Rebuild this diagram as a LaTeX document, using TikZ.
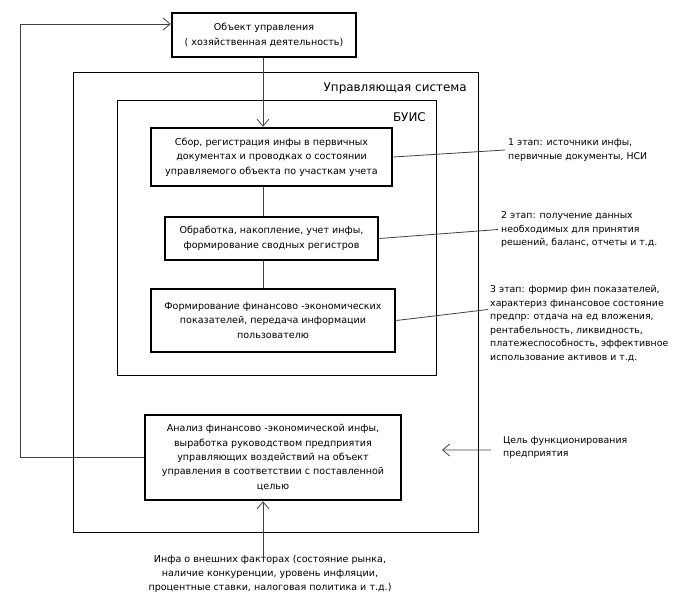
\documentclass[tikz,border=0pt]{standalone}
\usepackage{fontspec}
\setmainfont{DejaVu Sans}
\usetikzlibrary{arrows.meta}

\begin{document}
\begin{tikzpicture}[x=1bp,y=-1bp,
        stage/.style={draw,line width=2.6bp,align=center,inner sep=0pt,font=\fontsize{9.6}{14.5}\selectfont},
        frame/.style={draw,line width=0.8bp,inner sep=0pt},
        caption/.style={anchor=east,inner sep=0pt,font=\fontsize{12}{14}\selectfont},
        note/.style={anchor=west,align=left,inner sep=0pt,font=\fontsize{9.4}{13.6}\selectfont},
        link/.style={line width=0.8bp,draw=black!75},
        arr/.style={link,-{Straight Barb[length=7bp,width=12bp]}}]
        \useasboundingbox (0,0) rectangle (674,596);
        %% frames
        \node[frame,minimum width=405bp,minimum height=460bp] (US) at (275.5,302) {};
        \node[caption] (USlabel) at (467,88) {Управляющая система};
        \node[frame,minimum width=319bp,minimum height=275bp] (BUIS) at (276.5,237.5) {};
        \node[caption] (BUISlabel) at (426,117) {БУИС};
        %% stages
        \node[stage,minimum width=184bp,minimum height=44bp] (obj) at (264,35) {Объект управления\\( хозяйственная деятельность)};
        \node[stage,minimum width=241bp,minimum height=58bp] (b1) at (271.5,157) {Сбор, регистрация инфы в первичных\\документах и проводках о состоянии\\управляемого объекта по участкам учета};
        \node[stage,minimum width=213bp,minimum height=43bp] (b2) at (271.5,238.5) {Обработка, накопление, учет инфы,\\формирование сводных регистров};
        \node[stage,minimum width=244bp,minimum height=63bp] (b3) at (273,320.5) {Формирование финансово -экономических\\показателей, передача информации\\пользователю};
        \node[stage,minimum width=256bp,minimum height=85bp] (b4) at (273,457.5) {Анализ финансово -экономической инфы,\\выработка руководством предприятия\\управляющих воздействий на объект\\управления в соответствии с поставленной\\целью};
        %% notes
        \node[note] (s1) at (508,150) {1 этап: источники инфы,\\первичные документы, НСИ};
        \node[note] (s2) at (501,229.5) {2 этап: получение  данных\\необходимых для принятия\\решений, баланс, отчеты и т.д.};
        \node[note] (s3) at (490,323.5) {3 этап: формир фин показателей,\\характериз финансовое состояние\\предпр: отдача на ед вложения,\\рентабельность, ликвидность,\\платежеспособность, эффективное\\использование активов и т.д.};
        \node[note] (s4) at (503,447.5) {Цель функционирования\\предприятия};
        \node[align=center,inner sep=0pt,font=\fontsize{9.6}{14}\selectfont] (ext) at (270,574) {Инфа о внешних факторах (состояние рынка,\\наличие конкуренции, уровень инфляции,\\процентные ставки, налоговая политика и т.д.)};
        %% connectors
        \coordinate (axis) at (263,0);
        \coordinate (aim) at (442,450);
        \draw[arr] (obj.south -| axis) -- (b1.north -| axis);
        \draw[link] (b1.south -| axis) -- (b2.north -| axis);
        \draw[link] (b2.south -| axis) -- (b3.north -| axis);
        \draw[arr] ([yshift=-2bp]ext.north -| axis) -- (b4.south -| axis);
        \draw[arr] (b4.west) -- ++(-123,0) |- ([yshift=11bp]obj.west);
        \draw[arr] ([xshift=-12bp,yshift=-2.5bp]s4.west) -- (aim);
        \draw[link] (b1.east) -- ([xshift=-3bp]s1.west);
        \draw[link] (b2.east) -- ([xshift=-3bp]s2.west);
        \draw[link] (b3.east) -- ([xshift=-2bp,yshift=14bp]s3.west);
    \end{tikzpicture}
\end{document}
